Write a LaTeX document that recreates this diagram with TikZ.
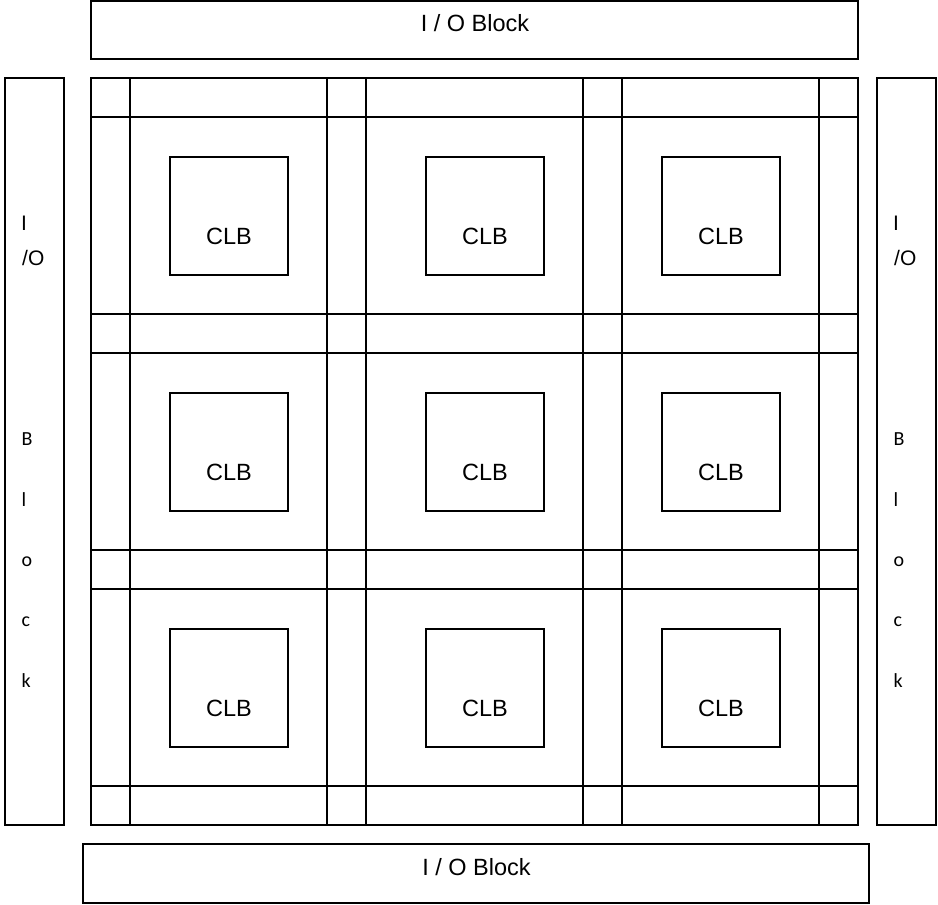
\documentclass[tikz,border=0pt]{standalone}
\usepackage{fontspec}
\setmainfont{Liberation Sans}
\newfontfamily\calib{Carlito}
\begin{document}
\begin{tikzpicture}[x=1pt,y=-1pt,
  box/.style={draw=black, line width=1.6pt, rectangle, inner sep=0pt, outer sep=0pt},
  gridline/.style={draw=black, line width=1.6pt},
  lab/.style={font=\fontsize{23.5}{27}\selectfont, inner sep=0pt, anchor=base},
  vlab/.style={font=\fontsize{21}{25}\selectfont, inner sep=0pt, anchor=base west},
  vlabc/.style={font=\calib\fontsize{20}{24}\selectfont, inner sep=0pt, anchor=base west},
  clb/.style={box, minimum width=118pt, minimum height=118pt},
]
\useasboundingbox (0,0) rectangle (938,905);

% I/O blocks
\node[box, minimum width=767pt, minimum height=58pt] (iotop) at (474.5,30) {};
\node[lab] (iotopt) at (475,31) {I / O Block};
\node[box, minimum width=786pt, minimum height=59pt] (iobot) at (476,873.5) {};
\node[lab] (iobott) at (476.5,875) {I / O Block};
\node[box, minimum width=59pt, minimum height=747pt] (ioleft) at (34.5,451.5) {};
\node[box, minimum width=59pt, minimum height=747pt] (ioright) at (906.5,451.5) {};

% vertical texts
\foreach \xx/\nm in {21/l, 893/r}{
  \node[vlab] (i\nm) at (\xx,230) {I};
  \node[vlab] (o\nm) at (\xx+1,265) {/O};
  \node[vlabc] (b\nm) at (\xx+0.5,445) {B};
  \node[vlabc] (l\nm) at (\xx+0.5,506) {l};
  \node[vlabc] (oo\nm) at (\xx+0.5,566) {o};
  \node[vlabc] (c\nm) at (\xx+0.5,626) {c};
  \node[vlabc] (k\nm) at (\xx+0.5,687) {k};
}

% routing fabric
\node[box, minimum width=767pt, minimum height=747pt] (fabric) at (474.5,451.5) {};
\foreach \xx in {130,327,366,583,622,819}{
  \draw[gridline] (\xx,78) -- (\xx,825);
}
\foreach \yy in {117,314,353,550,589,786}{
  \draw[gridline] (91,\yy) -- (858,\yy);
}

% CLBs
\foreach \cx [count=\i] in {229,485,721}{
  \foreach \cy [count=\j] in {216,452,688}{
    \node[clb] (clb\i\j) at (\cx,\cy) {};
    \node[lab] (clbt\i\j) at (\cx,\cy+28) {CLB};
  }
}
\end{tikzpicture}
\end{document}
